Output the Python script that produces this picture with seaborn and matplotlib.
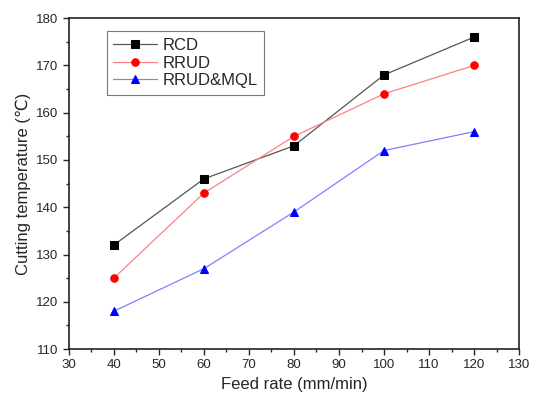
import pandas as pd
import matplotlib
matplotlib.use("Agg")
import matplotlib.pyplot as plt
import seaborn as sns
from matplotlib.ticker import MultipleLocator

# data
feed_rate = [40, 60, 80, 100, 120]
rcd = [132, 146, 153, 168, 176]
rrud = [125, 143, 155, 164, 170]
rrud_mql = [118, 127, 139, 152, 156]

df = pd.DataFrame({
    "Feed rate": feed_rate * 3,
    "Temp": rcd + rrud + rrud_mql,
    "Method": ["RCD"] * 5 + ["RRUD"] * 5 + ["RRUD&MQL"] * 5,
})

sns.set_style("ticks")
plt.rcParams["font.family"] = ["Liberation Sans", "DejaVu Sans"]

fig = plt.figure(figsize=(5.33, 4.04), dpi=100)
ax = fig.add_axes([0.129, 0.136, 0.845, 0.819])

line_colors = {"RCD": "#555555", "RRUD": "#ff8080", "RRUD&MQL": "#8080ff"}
marker_colors = {"RCD": "black", "RRUD": "red", "RRUD&MQL": "blue"}
markers = {"RCD": "s", "RRUD": "o", "RRUD&MQL": "^"}

for name, grp in df.groupby("Method", sort=False):
    sns.lineplot(data=grp, x="Feed rate", y="Temp", ax=ax, label=name,
                 color=line_colors[name], linewidth=0.9, marker=markers[name],
                 markersize=5.4, markerfacecolor=marker_colors[name],
                 markeredgecolor=marker_colors[name])

ax.set_xlim(30, 130)
ax.set_ylim(110, 180)
ax.xaxis.set_major_locator(MultipleLocator(10))
ax.xaxis.set_minor_locator(MultipleLocator(5))
ax.yaxis.set_major_locator(MultipleLocator(10))
ax.yaxis.set_minor_locator(MultipleLocator(5))
ax.tick_params(which="major", length=4, width=1, labelsize=9.5, direction="out")
ax.tick_params(which="minor", length=2.5, width=1, direction="out")
for s in ax.spines.values():
    s.set_linewidth(1.2)
    s.set_color("#222222")

ax.set_xlabel("Feed rate (mm/min)", fontsize=12)
ax.set_ylabel("Cutting temperature (\u2103)", fontsize=12)

leg = ax.legend(loc="upper left", bbox_to_anchor=(0.084, 0.96), fontsize=12,
                frameon=True, fancybox=False, borderpad=0.4, handlelength=2.6,
                labelspacing=0.15, handletextpad=0.35, borderaxespad=0)
leg.get_frame().set_edgecolor("#555555")
leg.get_frame().set_linewidth(0.8)

fig.savefig("out.png", dpi=100)
